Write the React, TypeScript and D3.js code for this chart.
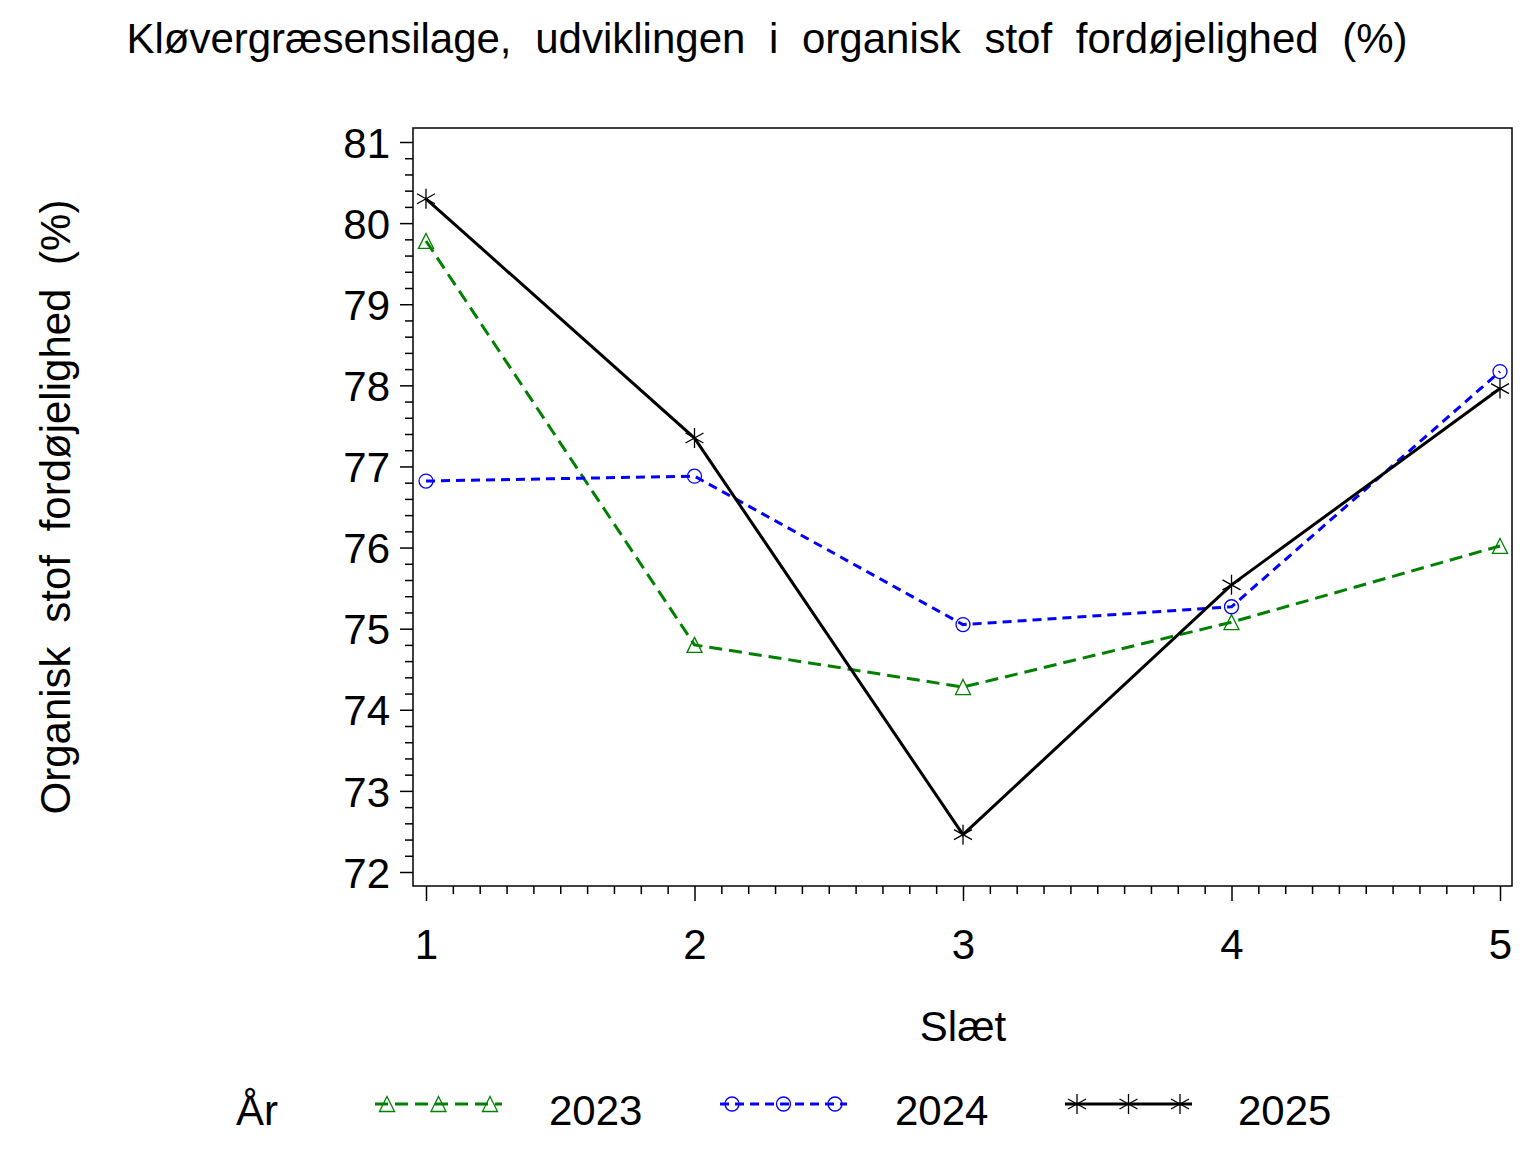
import React, { useEffect, useRef } from "react";
import * as d3 from "d3";

const slaet = [1, 2, 3, 4, 5];
const years = ["2023", "2024", "2025"];
const values2023 = [79.78, 74.8, 74.28, 75.08, 76.02];
const values2024 = [76.82, 76.88, 75.05, 75.27, 78.17];
const values2025 = [80.3, 77.35, 72.46, 75.54, 77.96];
const yTicks = [72, 73, 74, 75, 76, 77, 78, 79, 80, 81];

const W = 1536;
const H = 1152;
const frame = { left: 413, right: 1512, top: 128, bottom: 886 };
const FONT = "'Liberation Sans', Arial, sans-serif";
const FS = 42;

type Marker = "triangle" | "circle" | "star";
const seriesStyle: { color: string; dash: string | null; marker: Marker }[] = [
  { color: "#008000", dash: "13,7", marker: "triangle" },
  { color: "#0000ff", dash: "9,6", marker: "circle" },
  { color: "#000000", dash: null, marker: "star" },
];

function drawMarker(g: d3.Selection<SVGGElement, unknown, null, undefined>, kind: Marker, cx: number, cy: number, color: string) {
  if (kind === "triangle") {
    g.append("path")
      .attr("d", `M${cx},${cy - 7.5}L${cx + 7.5},${cy + 7.5}L${cx - 7.5},${cy + 7.5}Z`)
      .attr("fill", "none")
      .attr("stroke", color)
      .attr("stroke-width", 1.3);
  } else if (kind === "circle") {
    g.append("circle")
      .attr("cx", cx)
      .attr("cy", cy)
      .attr("r", 7)
      .attr("fill", "none")
      .attr("stroke", color)
      .attr("stroke-width", 1.3);
  } else {
    g.append("path")
      .attr(
        "d",
        `M${cx},${cy - 10}L${cx},${cy + 10}M${cx - 9},${cy - 5}L${cx + 9},${cy + 5}M${cx - 9},${cy + 5}L${cx + 9},${cy - 5}`
      )
      .attr("stroke", color)
      .attr("stroke-width", 1.3);
  }
}

const App: React.FC = () => {
  const ref = useRef<SVGSVGElement | null>(null);

  useEffect(() => {
    if (!ref.current) return;
    const svg = d3.select(ref.current);
    svg.selectAll("*").remove();

    const x = d3.scaleLinear().domain([1, 5]).range([426, 1500]);
    const y = d3.scaleLinear().domain([72, 81]).range([872, 142]);

    svg.append("rect").attr("width", W).attr("height", H).attr("fill", "#fff");

    // title
    svg
      .append("text")
      .attr("x", 767)
      .attr("y", 53)
      .attr("text-anchor", "middle")
      .attr("font-family", FONT)
      .attr("font-size", FS)
      .attr("word-spacing", 12)
      .text("Kløvergræsensilage, udviklingen i organisk stof fordøjelighed (%)");

    // frame
    svg
      .append("rect")
      .attr("x", frame.left)
      .attr("y", frame.top)
      .attr("width", frame.right - frame.left)
      .attr("height", frame.bottom - frame.top)
      .attr("fill", "none")
      .attr("stroke", "#000")
      .attr("stroke-width", 1.5);

    // y axis
    const minorY = d3.range(72, 81.01, 0.2).filter((v) => Math.abs(v - Math.round(v)) > 0.01);
    svg
      .append("g")
      .attr("transform", `translate(${frame.left},0)`)
      .call(d3.axisLeft(y).tickValues(minorY).tickSize(8).tickFormat(() => ""))
      .call((g) => g.select(".domain").remove())
      .selectAll("line")
      .attr("stroke-width", 1.5);
    const ya = svg
      .append("g")
      .attr("transform", `translate(${frame.left},0)`)
      .call(d3.axisLeft(y).tickValues(yTicks).tickSize(13).tickPadding(10).tickFormat(d3.format("d")));
    ya.select(".domain").remove();
    ya.selectAll("line").attr("stroke-width", 1.5);
    ya.selectAll("text")
      .attr("font-family", FONT)
      .attr("font-size", FS)
      .attr("dy", "0.36em")
      .attr("fill", "#000");

    // x axis
    const minorX = d3.range(1, 5.001, 0.1).filter((v) => Math.abs(v - Math.round(v)) > 0.01);
    svg
      .append("g")
      .attr("transform", `translate(0,${frame.bottom})`)
      .call(d3.axisBottom(x).tickValues(minorX).tickSize(8).tickFormat(() => ""))
      .call((g) => g.select(".domain").remove())
      .selectAll("line")
      .attr("stroke-width", 1.5);
    const xa = svg
      .append("g")
      .attr("transform", `translate(0,${frame.bottom})`)
      .call(d3.axisBottom(x).tickValues(slaet).tickSize(15).tickPadding(28).tickFormat(d3.format("d")));
    xa.select(".domain").remove();
    xa.selectAll("line").attr("stroke-width", 1.5);
    xa.selectAll("text")
      .attr("font-family", FONT)
      .attr("font-size", FS)
      .attr("fill", "#000");

    // axis labels
    svg
      .append("text")
      .attr("transform", `translate(70,507) rotate(-90)`)
      .attr("text-anchor", "middle")
      .attr("font-family", FONT)
      .attr("font-size", FS)
      .attr("word-spacing", 12)
      .text("Organisk stof fordøjelighed (%)");
    svg
      .append("text")
      .attr("x", 963)
      .attr("y", 1041)
      .attr("text-anchor", "middle")
      .attr("font-family", FONT)
      .attr("font-size", FS)
      .text("Slæt");

    // series
    const allValues = [values2023, values2024, values2025];
    const line = d3
      .line<number>()
      .x((_, i) => x(slaet[i]))
      .y((d) => y(d));
    allValues.forEach((vals, si) => {
      const st = seriesStyle[si];
      const g = svg.append("g");
      g.append("path")
        .attr("d", line(vals))
        .attr("fill", "none")
        .attr("stroke", st.color)
        .attr("stroke-width", 3)
        .attr("stroke-dasharray", st.dash);
      vals.forEach((v, i) => drawMarker(g, st.marker, x(slaet[i]), y(v), st.color));
    });

    // legend
    const ly = 1104;
    svg
      .append("text")
      .attr("x", 236)
      .attr("y", 1125)
      .attr("font-family", FONT)
      .attr("font-size", FS)
      .text("År");
    const legendX = [375, 720, 1065];
    const labelX = [549, 895, 1238];
    years.forEach((yr, si) => {
      const st = seriesStyle[si];
      const g = svg.append("g");
      const x0 = legendX[si];
      const x1 = x0 + 127;
      g.append("line")
        .attr("x1", x0)
        .attr("x2", x1)
        .attr("y1", ly)
        .attr("y2", ly)
        .attr("stroke", st.color)
        .attr("stroke-width", 3)
        .attr("stroke-dasharray", st.dash);
      [x0 + 12, (x0 + x1) / 2, x1 - 12].forEach((mx) => drawMarker(g, st.marker, mx, ly, st.color));
      g.append("text")
        .attr("x", labelX[si])
        .attr("y", 1125)
        .attr("font-family", FONT)
        .attr("font-size", FS)
        .text(yr);
    });
  }, []);

  return (
    <svg
      ref={ref}
      width={W}
      height={H}
      style={{ position: "absolute", left: 0, top: 0, display: "block" }}
    />
  );
};

export default App;
